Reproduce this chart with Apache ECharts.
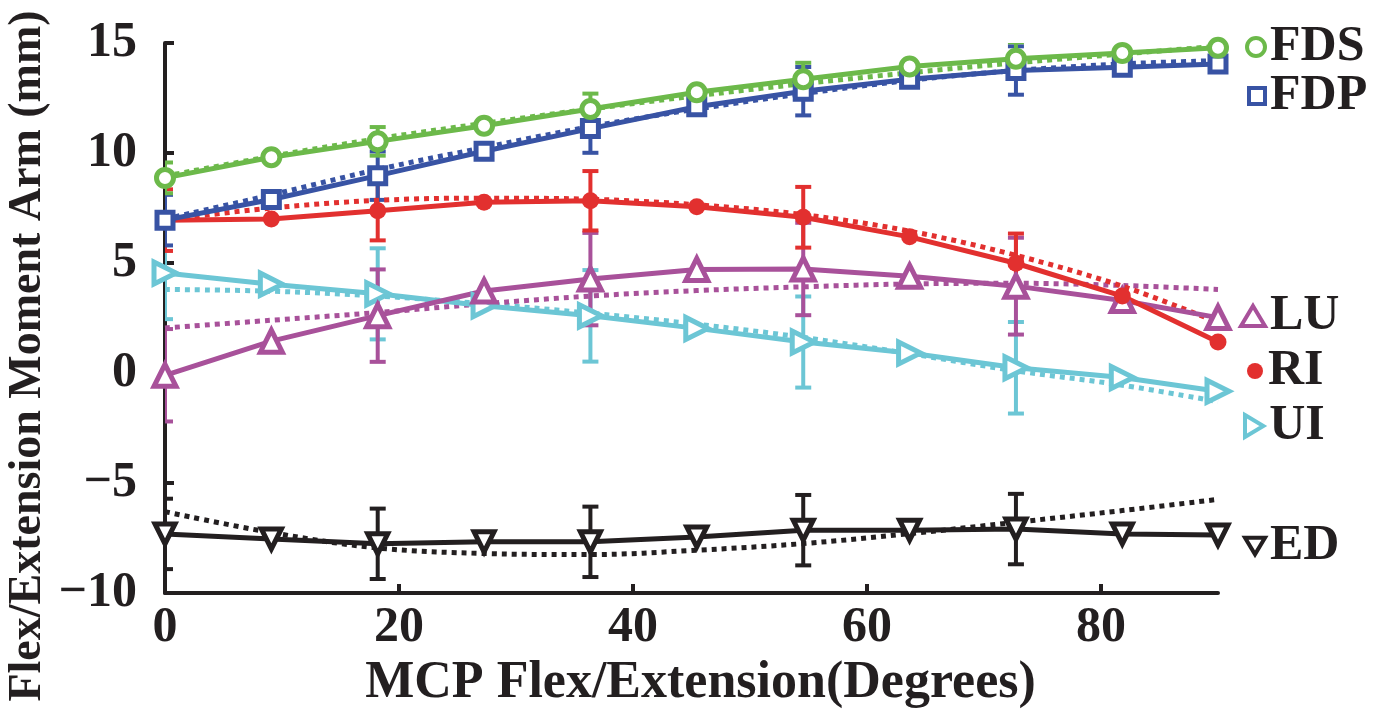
<!DOCTYPE html>
<html>
<head>
<meta charset="utf-8">
<script src="https://cdn.jsdelivr.net/npm/echarts@6/dist/echarts.min.js"></script>
<style>
html,body{margin:0;padding:0;background:#fff;}
#chart{width:1385px;height:715px;}
</style>
</head>
<body>
<div id="chart"></div>
<script>
// ---- data ----
const xDeg = [0, 9.09, 18.18, 27.27, 36.36, 45.45, 54.55, 63.64, 72.73, 81.82, 90];
const xTicks = [0, 20, 40, 60, 80];
const yTicks = [-10, -5, 0, 5, 10, 15];
const errIdx = [0, 2, 4, 6, 8];

const FDS = [8.87, 9.81, 10.53, 11.24, 12.0, 12.76, 13.35, 13.93, 14.28, 14.55, 14.78];
const FDSfit = [8.95, 9.85, 10.65, 11.35, 12.0, 12.6, 13.15, 13.65, 14.1, 14.5, 14.85];
const FDSerr = [0.7, 0.65, 0.7, 0.75, 0.75];

const FDP = [6.95, 7.89, 8.97, 10.08, 11.11, 12.1, 12.81, 13.35, 13.75, 13.9, 14.05];
const FDPfit = [7.0, 8.1, 9.25, 10.25, 11.2, 12.0, 12.7, 13.3, 13.75, 14.05, 14.2];
const FDPerr = [1.15, 1.1, 1.1, 1.1, 1.1];

const RI = [6.95, 7.0, 7.38, 7.76, 7.83, 7.56, 7.08, 6.19, 4.99, 3.5, 1.41];
const RIfit = [6.95, 7.5, 7.85, 7.95, 7.9, 7.65, 7.2, 6.45, 5.35, 3.95, 2.3];
const RIerr = [1.4, 1.35, 1.35, 1.38, 1.35];

const LU = [-0.1, 1.45, 2.61, 3.73, 4.27, 4.71, 4.73, 4.4, 3.95, 3.3, 2.52];
const LUfit = [2.05, 2.4, 2.75, 3.15, 3.5, 3.75, 3.92, 4.05, 4.08, 3.98, 3.8];
const LUerr = [2.1, 2.1, 2.1, 2.1, 2.2];

const UI = [4.55, 4.04, 3.6, 3.06, 2.6, 2.03, 1.41, 0.91, 0.24, -0.2, -0.83];
const UIfit = [3.8, 3.72, 3.5, 3.15, 2.72, 2.22, 1.62, 0.88, 0.1, -0.55, -1.3];
const UIerr = [2.1, 2.07, 2.08, 2.07, 2.08];

const ED = [-7.31, -7.54, -7.76, -7.67, -7.67, -7.45, -7.14, -7.14, -7.09, -7.31, -7.36];
const EDfit = [-6.3, -7.25, -7.95, -8.2, -8.25, -8.05, -7.75, -7.3, -6.78, -6.25, -5.74];
const EDerr = [1.6, 1.6, 1.6, 1.6, 1.6];

const xTitle = 'MCP Flex/Extension(Degrees)';
const yTitle = 'Flex/Extension Moment Arm (mm)';

// ---- styles ----
const C = {
  FDS: '#6cb94a', FDP: '#3853a4', RI: '#e2302f',
  LU: '#a8519a', UI: '#6cc6d5', ED: '#231f20'
};
const INK = '#231f20';
const FONT = '"Liberation Serif", "Times New Roman", serif';

function pairs(ys) { return xDeg.map((x, i) => [x, ys[i]]); }
function errData(ys, errs) { return errIdx.map((i, k) => [xDeg[i], ys[i], errs[k]]); }

function errRender(color) {
  return function (params, api) {
    const x = api.value(0), y = api.value(1), e = api.value(2);
    const t = api.coord([x, y + e]);
    const b = api.coord([x, y - e]);
    const hw = 8;
    const st = { stroke: color, lineWidth: 4 };
    return {
      type: 'group',
      children: [
        { type: 'line', shape: { x1: t[0], y1: t[1], x2: b[0], y2: b[1] }, style: st },
        { type: 'line', shape: { x1: t[0] - hw, y1: t[1], x2: t[0] + hw, y2: t[1] }, style: st },
        { type: 'line', shape: { x1: b[0] - hw, y1: b[1], x2: b[0] + hw, y2: b[1] }, style: st }
      ]
    };
  };
}

const defs = [
  { name: 'ED', d: ED, fit: EDfit, err: EDerr, symbol: 'triangle', size: 20, rot: 180, fill: '#fff', bw: 5 },
  { name: 'UI', d: UI, fit: UIfit, err: UIerr, symbol: 'triangle', size: 22, rot: -90, fill: '#fff', bw: 5 },
  { name: 'LU', d: LU, fit: LUfit, err: LUerr, symbol: 'triangle', size: 22, rot: 0, fill: '#fff', bw: 5 },
  { name: 'RI', d: RI, fit: RIfit, err: RIerr, symbol: 'circle', size: 17, rot: 0, fill: C.RI, bw: 0 },
  { name: 'FDP', d: FDP, fit: FDPfit, err: FDPerr, symbol: 'rect', size: 16, rot: 0, fill: '#fff', bw: 5 },
  { name: 'FDS', d: FDS, fit: FDSfit, err: FDSerr, symbol: 'circle', size: 17, rot: 0, fill: '#fff', bw: 5 }
];

const series = [];
defs.forEach(s => {
  const col = C[s.name];
  series.push({
    name: s.name + ' err', type: 'custom', clip: true, z: 2,
    renderItem: errRender(col), data: errData(s.d, s.err), silent: true
  });
  series.push({
    name: s.name + ' fit', type: 'line', data: pairs(s.fit), smooth: 0.35,
    symbol: 'none', z: 3, silent: true,
    lineStyle: { color: col, width: 5, type: [5, 5] }
  });
  series.push({
    name: s.name, type: 'line', data: pairs(s.d), z: 4,
    symbol: s.symbol, symbolSize: s.size, symbolRotate: s.rot, showAllSymbol: true,
    itemStyle: { color: s.fill, borderColor: col, borderWidth: s.bw },
    lineStyle: { color: col, width: 5 }
  });
});

const legendSpec = [
  { name: 'FDS', cy: 47, icon: 'circle', w: 18, h: 18, fill: '#fff' },
  { name: 'FDP', cy: 96, icon: 'rect', w: 16, h: 16, fill: '#fff' },
  { name: 'LU', cy: 316, icon: 'triangle', w: 24, h: 20, fill: '#fff' },
  { name: 'RI', cy: 371, icon: 'circle', w: 16, h: 16, fill: C.RI },
  { name: 'UI', cy: 426, icon: 'path://M0,0L10,6L0,12Z', w: 20, h: 22, fill: '#fff' },
  { name: 'ED', cy: 546, icon: 'path://M0,0L12,0L6,10Z', w: 20, h: 18, fill: '#fff' }
];
const legends = legendSpec.map(l => ({
  data: [l.name], left: 1268 - 5 - l.w, top: l.cy - 25, padding: 0,
  selectedMode: false, icon: l.icon, itemWidth: l.w, itemHeight: l.h,
  itemStyle: { color: l.fill, borderColor: C[l.name], borderWidth: l.fill === '#fff' ? 4 : 0 },
  textStyle: { fontFamily: FONT, fontWeight: 'bold', fontSize: 50, color: INK, lineHeight: 50 }
}));

const chart = echarts.init(document.getElementById('chart'), null, { renderer: 'canvas' });
chart.setOption({
  backgroundColor: '#fff',
  animation: false,
  grid: { left: 165, right: 167, top: 43, bottom: 113, containLabel: false },
  legend: legends,
  xAxis: {
    type: 'value', min: 0, max: 90, interval: 20,
    name: xTitle, nameLocation: 'middle', nameGap: 54,
    nameTextStyle: { fontFamily: FONT, fontWeight: 'bold', fontSize: 52, color: INK, padding: [0, 0, 0, 18] },
    axisLine: { show: true, onZero: false, lineStyle: { color: INK, width: 4 } },
    axisTick: { show: true, inside: true, length: 9, lineStyle: { color: INK, width: 4 }, customValues: xTicks },
    axisLabel: { show: true, margin: 10, fontFamily: FONT, fontWeight: 'bold', fontSize: 50, color: INK, customValues: xTicks },
    splitLine: { show: false }
  },
  yAxis: {
    type: 'value', min: -10, max: 15, interval: 5,
    axisLine: { show: true, onZero: false, lineStyle: { color: INK, width: 4 } },
    axisTick: { show: true, inside: true, length: 9, lineStyle: { color: INK, width: 4 }, customValues: yTicks },
    axisLabel: {
      show: true, margin: 28, fontFamily: FONT, fontWeight: 'bold', fontSize: 50, color: INK,
      customValues: yTicks,
      formatter: v => String(v).replace('-', '\u2212')
    },
    splitLine: { show: false }
  },
  graphic: [{
    type: 'text', x: 28, y: 356, rotation: Math.PI / 2,
    style: {
      text: yTitle, fontFamily: FONT, fontWeight: 'bold', fontSize: 46, fill: INK,
      align: 'center', verticalAlign: 'middle'
    }
  }],
  series: series
});
</script>
</body>
</html>
